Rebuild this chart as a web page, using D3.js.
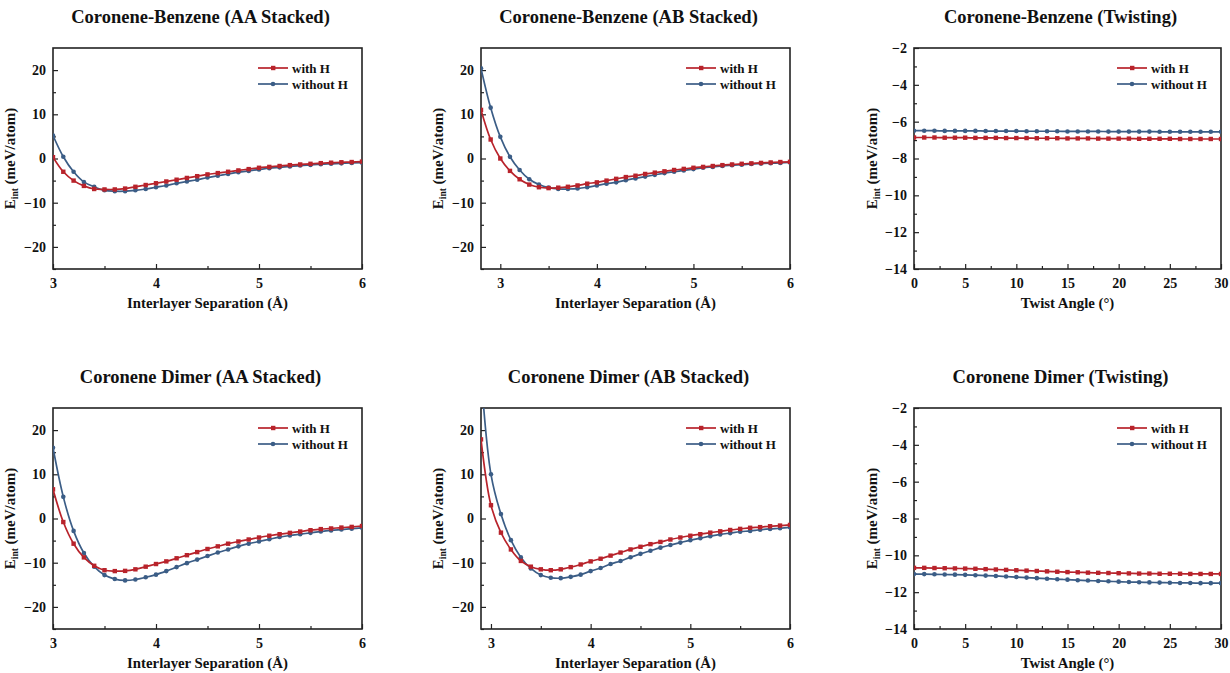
<!DOCTYPE html>
<html>
<head>
<meta charset="utf-8">
<script src="https://cdn.jsdelivr.net/npm/d3@7"></script>
<style>
  body { margin: 0; background: #fff; }
  svg text { font-family: "Liberation Serif", "Times New Roman", serif; font-weight: bold; fill: #111; }
</style>
</head>
<body>
<div id="chart"></div>
<script>
// x values
const sepAA = d3.range(31).map(i => +(3.0 + i * 0.1).toFixed(1));
const sepCBAB = d3.range(33).map(i => +(2.8 + i * 0.1).toFixed(1));
const sepCDAB = d3.range(32).map(i => +(2.9 + i * 0.1).toFixed(1));
const twist = d3.range(31);

// Coronene-Benzene AA
const cbAAwithH = [0.3, -3.0, -5.0, -6.2, -6.9, -7.0, -7.0, -6.8, -6.4, -6.0, -5.6, -5.2, -4.8, -4.4, -4.0, -3.6,
  -3.3, -3.0, -2.7, -2.4, -2.1, -1.9, -1.7, -1.5, -1.35, -1.2, -1.05, -0.95, -0.85, -0.8, -0.7];
const cbAAwithoutH = [5.2, 0.4, -3.0, -5.3, -6.4, -7.2, -7.4, -7.4, -7.2, -6.9, -6.5, -6.1, -5.6, -5.2, -4.8, -4.3,
  -3.9, -3.5, -3.1, -2.8, -2.5, -2.2, -2.0, -1.8, -1.6, -1.45, -1.3, -1.2, -1.1, -1.0, -0.95];

// Coronene-Benzene AB
const cbABwithH = [11.0, 4.3, 0.0, -2.8, -4.7, -5.9, -6.5, -6.7, -6.6, -6.4, -6.1, -5.7, -5.4, -5.0, -4.6, -4.2, -3.9,
  -3.5, -3.2, -2.9, -2.6, -2.35, -2.1, -1.9, -1.7, -1.5, -1.35, -1.2, -1.1, -1.0, -0.9, -0.8, -0.75];
const cbABwithoutH = [20.4, 11.5, 4.9, 0.4, -2.6, -4.7, -5.9, -6.6, -6.9, -6.9, -6.8, -6.5, -6.1, -5.7, -5.4, -4.9, -4.5,
  -4.1, -3.7, -3.3, -3.0, -2.7, -2.4, -2.1, -1.9, -1.7, -1.5, -1.4, -1.25, -1.15, -1.05, -1.0, -0.9];

// Coronene-Benzene twisting
const cbTwwithH = [-6.86, -6.86, -6.86, -6.87, -6.87, -6.87, -6.88, -6.88, -6.88, -6.89, -6.89, -6.89, -6.90, -6.90, -6.90, -6.91,
  -6.91, -6.91, -6.92, -6.92, -6.92, -6.92, -6.93, -6.93, -6.93, -6.93, -6.94, -6.94, -6.94, -6.94, -6.94];
const cbTwwithoutH = [-6.49, -6.49, -6.49, -6.50, -6.50, -6.50, -6.50, -6.51, -6.51, -6.51, -6.51, -6.52, -6.52, -6.52, -6.52, -6.53,
  -6.53, -6.53, -6.53, -6.54, -6.54, -6.54, -6.54, -6.54, -6.55, -6.55, -6.55, -6.55, -6.55, -6.55, -6.55];

// Coronene Dimer AA
const cdAAwithH = [6.6, -0.8, -5.7, -8.8, -10.7, -11.7, -11.9, -11.85, -11.5, -10.9, -10.3, -9.7, -9.0, -8.3, -7.6, -6.9,
  -6.3, -5.7, -5.2, -4.75, -4.3, -3.9, -3.55, -3.25, -2.95, -2.65, -2.4, -2.25, -2.05, -1.9, -1.7];
const cdAAwithoutH = [16.0, 4.9, -2.8, -7.8, -10.9, -12.8, -13.7, -14.0, -13.8, -13.3, -12.7, -11.9, -11.0, -10.1, -9.3, -8.5,
  -7.7, -7.0, -6.3, -5.7, -5.2, -4.7, -4.2, -3.85, -3.55, -3.25, -2.95, -2.7, -2.5, -2.3, -2.1];

// Coronene Dimer AB
const cdABwithH = [17.9, 3.0, -3.2, -7.0, -9.6, -10.9, -11.5, -11.7, -11.5, -11.0, -10.4, -9.7, -9.1, -8.4, -7.7, -7.0,
  -6.4, -5.8, -5.3, -4.75, -4.3, -3.9, -3.55, -3.2, -2.9, -2.6, -2.35, -2.1, -1.95, -1.75, -1.6, -1.45];
const cdABwithoutH = [33.0, 10.0, 1.0, -4.9, -8.8, -11.3, -12.8, -13.4, -13.5, -13.2, -12.7, -11.9, -11.2, -10.3, -9.6, -8.75,
  -8.0, -7.3, -6.6, -6.0, -5.45, -4.9, -4.45, -4.0, -3.6, -3.3, -3.0, -2.8, -2.55, -2.35, -2.2, -2.0];

// Coronene Dimer twisting
const cdTwwithH = [-10.68, -10.68, -10.69, -10.70, -10.71, -10.72, -10.73, -10.75, -10.77, -10.79, -10.81, -10.83, -10.85, -10.87,
  -10.89, -10.91, -10.92, -10.94, -10.95, -10.96, -10.97, -10.98, -10.99, -10.99, -11.0, -11.0, -11.0, -11.01, -11.01, -11.01, -11.01];
const cdTwwithoutH = [-11.02, -11.02, -11.03, -11.04, -11.05, -11.06, -11.08, -11.10, -11.12, -11.15, -11.18, -11.21, -11.24, -11.27,
  -11.30, -11.32, -11.35, -11.37, -11.39, -11.41, -11.43, -11.45, -11.46, -11.47, -11.48, -11.49, -11.50, -11.50, -11.51, -11.51, -11.51];

const seriesNames = ["with H", "without H"];
const sepYTicks = [-20, -10, 0, 10, 20];
const twistYTicks = [-14, -12, -10, -8, -6, -4, -2];

const panels = [
  { title: "Coronene-Benzene (AA Stacked)", x: sepAA, a: cbAAwithH, b: cbAAwithoutH, xd: [3, 6], yd: [-25, 25],
    xt: [3, 4, 5, 6], xm: [3.5, 4.5, 5.5], yt: sepYTicks, ym: [-25, -15, -5, 5, 15], xl: "Interlayer Separation (Å)" },
  { title: "Coronene-Benzene (AB Stacked)", x: sepCBAB, a: cbABwithH, b: cbABwithoutH, xd: [2.8, 6], yd: [-25, 25],
    xt: [3, 4, 5, 6], xm: [3.5, 4.5, 5.5], yt: sepYTicks, ym: [-25, -15, -5, 5, 15], xl: "Interlayer Separation (Å)" },
  { title: "Coronene-Benzene (Twisting)", x: twist, a: cbTwwithH, b: cbTwwithoutH, xd: [0, 30], yd: [-14, -2],
    xt: [0, 5, 10, 15, 20, 25, 30], xm: [2.5, 7.5, 12.5, 17.5, 22.5, 27.5], yt: twistYTicks, ym: [-13, -11, -9, -7, -5, -3], xl: "Twist Angle (°)" },
  { title: "Coronene Dimer (AA Stacked)", x: sepAA, a: cdAAwithH, b: cdAAwithoutH, xd: [3, 6], yd: [-25, 25],
    xt: [3, 4, 5, 6], xm: [3.5, 4.5, 5.5], yt: sepYTicks, ym: [-25, -15, -5, 5, 15], xl: "Interlayer Separation (Å)" },
  { title: "Coronene Dimer (AB Stacked)", x: sepCDAB, a: cdABwithH, b: cdABwithoutH, xd: [2.9, 6], yd: [-25, 25],
    xt: [3, 4, 5, 6], xm: [3.5, 4.5, 5.5], yt: sepYTicks, ym: [-25, -15, -5, 5, 15], xl: "Interlayer Separation (Å)" },
  { title: "Coronene Dimer (Twisting)", x: twist, a: cdTwwithH, b: cdTwwithoutH, xd: [0, 30], yd: [-14, -2],
    xt: [0, 5, 10, 15, 20, 25, 30], xm: [2.5, 7.5, 12.5, 17.5, 22.5, 27.5], yt: twistYTicks, ym: [-13, -11, -9, -7, -5, -3], xl: "Twist Angle (°)" }
];

const red = "#b8232b";
const blue = "#3b5d86";
const frame = "#222";

const svg = d3.select("#chart").append("svg")
  .attr("width", 1230).attr("height", 673);

const colLeft = [53, 481, 914];
const colRight = [362, 790, 1221];
const rowTop = [48, 408];
const rowBottom = [269, 629];

panels.forEach((p, i) => {
  const c = i % 3, r = Math.floor(i / 3);
  const x = d3.scaleLinear().domain(p.xd).range([colLeft[c], colRight[c]]);
  const y = d3.scaleLinear().domain(p.yd).range([rowBottom[r], rowTop[r]]);
  const g = svg.append("g");
  const cx = (colLeft[c] + colRight[c]) / 2;

  // title
  g.append("text").attr("x", cx - 7).attr("y", rowTop[r] - 25)
    .attr("text-anchor", "middle").style("font-size", "18.5px").text(p.title);

  // clip
  const clipId = "clip" + i;
  g.append("clipPath").attr("id", clipId).append("rect")
    .attr("x", colLeft[c]).attr("y", rowTop[r])
    .attr("width", colRight[c] - colLeft[c]).attr("height", rowBottom[r] - rowTop[r]);

  // axes: ticks pointing inward
  g.append("g").attr("transform", `translate(0,${rowBottom[r]})`)
    .call(d3.axisBottom(x).tickValues(p.xt).tickSizeInner(-5).tickSizeOuter(0).tickPadding(9).tickFormat(d3.format("d")));
  g.append("g").attr("transform", `translate(0,${rowBottom[r]})`)
    .call(d3.axisBottom(x).tickValues(p.xm).tickSizeInner(-3).tickSizeOuter(0).tickFormat(""));
  g.append("g").attr("transform", `translate(${colLeft[c]},0)`)
    .call(d3.axisLeft(y).tickValues(p.yt).tickSizeInner(-5).tickSizeOuter(0).tickPadding(7).tickFormat(d3.format("d")));
  g.append("g").attr("transform", `translate(${colLeft[c]},0)`)
    .call(d3.axisLeft(y).tickValues(p.ym).tickSizeInner(-3).tickSizeOuter(0).tickFormat(""));
  g.selectAll(".domain").remove();
  g.selectAll(".tick line").attr("stroke", frame).attr("stroke-width", 1.2);
  g.selectAll(".tick text").style("font-size", "14px").attr("fill", "#111")
    .style("font-family", "'Liberation Serif', serif").style("font-weight", "bold");

  // frame
  g.append("rect").attr("x", colLeft[c]).attr("y", rowTop[r])
    .attr("width", colRight[c] - colLeft[c]).attr("height", rowBottom[r] - rowTop[r])
    .attr("fill", "none").attr("stroke", frame).attr("stroke-width", 1.6);

  // series
  const line = d3.line().x(d => x(d[0])).y(d => y(d[1])).curve(d3.curveCatmullRom);
  const plotArea = g.append("g").attr("clip-path", `url(#${clipId})`);
  [[p.b, blue, "circle"], [p.a, red, "square"]].forEach(([vals, col, shape]) => {
    const pts = p.x.map((xv, k) => [xv, vals[k]]);
    plotArea.append("path").datum(pts).attr("d", line)
      .attr("fill", "none").attr("stroke", col).attr("stroke-width", 1.7);
    if (shape === "square") {
      plotArea.selectAll(null).data(pts).enter().append("rect")
        .attr("x", d => x(d[0]) - 2.2).attr("y", d => y(d[1]) - 2.2)
        .attr("width", 4.4).attr("height", 4.4).attr("fill", col);
    } else {
      plotArea.selectAll(null).data(pts).enter().append("circle")
        .attr("cx", d => x(d[0])).attr("cy", d => y(d[1])).attr("r", 2.3).attr("fill", col);
    }
  });

  // legend
  const lx = colRight[c] - 104, ly = rowTop[r] + 20;
  seriesNames.forEach((name, k) => {
    const col = k === 0 ? red : blue;
    const yy = ly + k * 16;
    g.append("line").attr("x1", lx).attr("x2", lx + 30).attr("y1", yy).attr("y2", yy)
      .attr("stroke", col).attr("stroke-width", 1.7);
    if (k === 0) {
      g.append("rect").attr("x", lx + 13).attr("y", yy - 2.2).attr("width", 4.4).attr("height", 4.4).attr("fill", col);
    } else {
      g.append("circle").attr("cx", lx + 15).attr("cy", yy).attr("r", 2.3).attr("fill", col);
    }
    g.append("text").attr("x", lx + 34).attr("y", yy + 4.5).style("font-size", "13px").text(name);
  });

  // x label
  g.append("text").attr("x", cx).attr("y", rowBottom[r] + 39)
    .attr("text-anchor", "middle").style("font-size", "14.8px").text(p.xl);

  // y label
  const ylx = colLeft[c] - (c === 2 ? 37 : 38);
  const yl = g.append("text").attr("transform", `translate(${ylx},${(rowTop[r] + rowBottom[r]) / 2}) rotate(-90)`)
    .attr("text-anchor", "middle").style("font-size", "15px");
  yl.append("tspan").text("E");
  yl.append("tspan").attr("dy", 3).style("font-size", "9.5px").text("int");
  yl.append("tspan").attr("dy", -3).text(" (meV/atom)");
});
</script>
</body>
</html>
